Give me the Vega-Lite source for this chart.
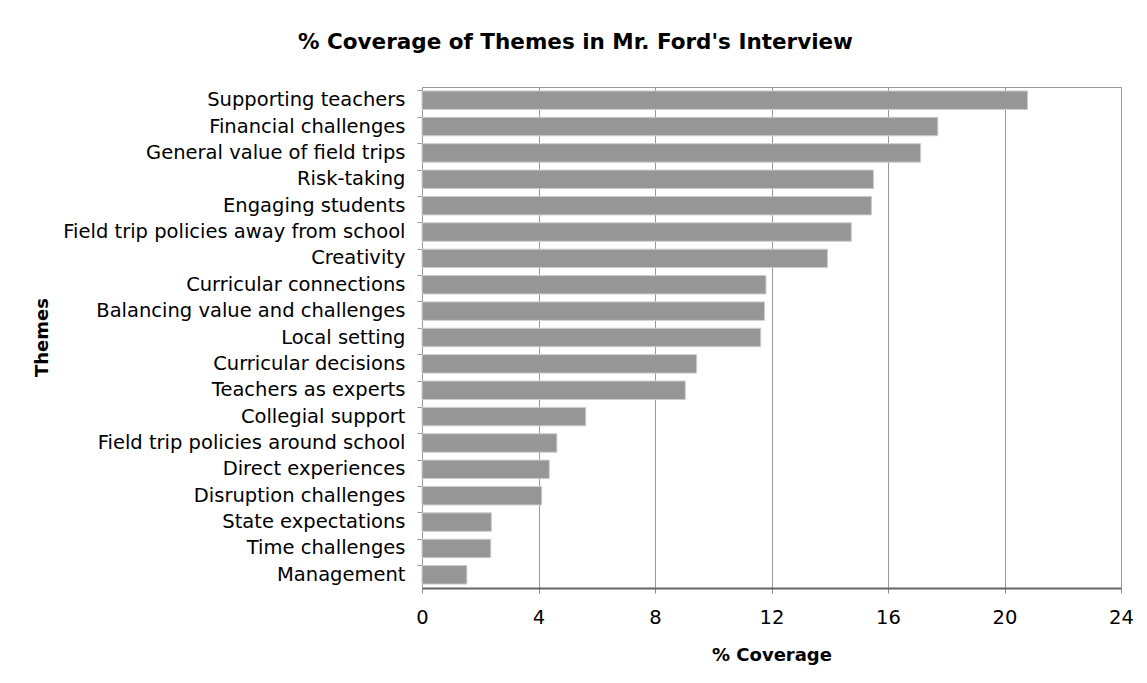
{
  "$schema": "https://vega.github.io/schema/vega-lite/v6.json",
  "width": 699,
  "height": 501,
  "autosize": {"type": "none"},
  "padding": {"left": 422, "top": 87, "right": 26, "bottom": 95},
  "background": "white",
  "title": {
    "text": "% Coverage of Themes in Mr. Ford's Interview",
    "font": "DejaVu Sans",
    "fontSize": 21.5,
    "fontWeight": "bold",
    "color": "black",
    "anchor": "middle",
    "frame": "group",
    "dx": -196,
    "offset": 34
  },
  "data": {
    "values": [
      {"theme": "Supporting teachers", "coverage": 20.79},
      {"theme": "Financial challenges", "coverage": 17.71},
      {"theme": "General value of field trips", "coverage": 17.12},
      {"theme": "Risk-taking", "coverage": 15.50},
      {"theme": "Engaging students", "coverage": 15.43},
      {"theme": "Field trip policies away from school", "coverage": 14.74},
      {"theme": "Creativity", "coverage": 13.92},
      {"theme": "Curricular connections", "coverage": 11.81},
      {"theme": "Balancing value and challenges", "coverage": 11.76},
      {"theme": "Local setting", "coverage": 11.63},
      {"theme": "Curricular decisions", "coverage": 9.43},
      {"theme": "Teachers as experts", "coverage": 9.04},
      {"theme": "Collegial support", "coverage": 5.62},
      {"theme": "Field trip policies around school", "coverage": 4.63},
      {"theme": "Direct experiences", "coverage": 4.37},
      {"theme": "Disruption challenges", "coverage": 4.11},
      {"theme": "State expectations", "coverage": 2.38},
      {"theme": "Time challenges", "coverage": 2.36},
      {"theme": "Management", "coverage": 1.54}
    ]
  },
  "mark": {"type": "bar", "color": "#969696", "stroke": "#cccccc", "strokeWidth": 1},
  "encoding": {
    "y": {
      "field": "theme",
      "type": "nominal",
      "sort": null,
      "scale": {"paddingInner": 0.3, "paddingOuter": 0.15},
      "axis": {
        "title": "Themes",
        "titleFont": "DejaVu Sans",
        "titleFontSize": 18,
        "titleFontWeight": "bold",
        "titleColor": "black",
        "titleAngle": -90,
        "titleX": -380,
        "titleY": 250,
        "titleAlign": "center",
        "titleBaseline": "middle",
        "labelFont": "DejaVu Sans",
        "labelFontSize": 19.5,
        "labelColor": "black",
        "labelPadding": 12,
        "labelLimit": 500,
        "tickSize": 5,
        "tickColor": "#999999",
        "domainColor": "#999999",
        "bandPosition": 0,
        "grid": false
      }
    },
    "x": {
      "field": "coverage",
      "type": "quantitative",
      "scale": {"domain": [0, 24], "nice": false},
      "axis": {
        "title": "% Coverage",
        "values": [0, 4, 8, 12, 16, 20, 24],
        "titleFont": "DejaVu Sans",
        "titleFontSize": 18,
        "titleFontWeight": "bold",
        "titleColor": "black",
        "titlePadding": 20,
        "labelFont": "DejaVu Sans",
        "labelFontSize": 19.5,
        "labelColor": "black",
        "labelPadding": 15,
        "labelFlush": false,
        "labelOverlap": false,
        "tickSize": 5,
        "tickColor": "#888888",
        "domainColor": "#666666",
        "domainWidth": 2,
        "grid": true,
        "gridColor": "#999999",
        "gridWidth": 1
      }
    }
  },
  "config": {
    "view": {"stroke": "#999999", "strokeWidth": 1}
  }
}
